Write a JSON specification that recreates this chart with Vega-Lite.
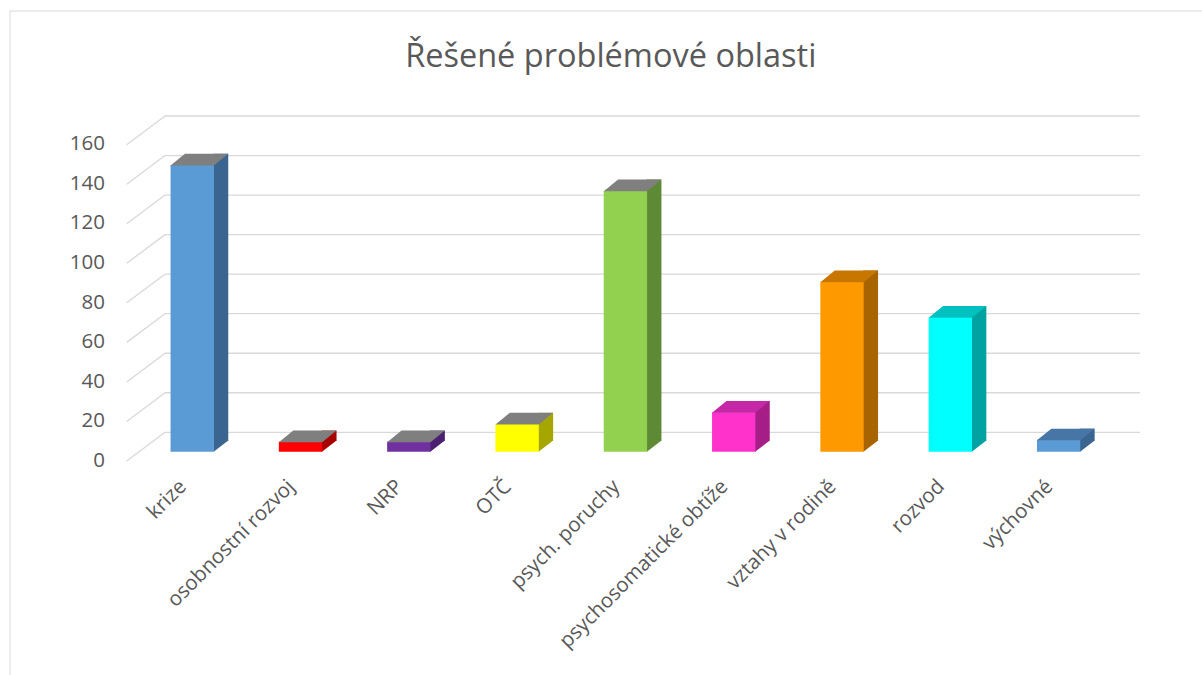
{
  "$schema": "https://vega.github.io/schema/vega-lite/v6.json",
  "autosize": {"type": "none"},
  "padding": {"left": 9.5, "top": 10.5, "right": 0, "bottom": 0},
  "width": 1192.5,
  "height": 664.5,
  "background": "white",
  "config": {
    "view": {"stroke": "#D9D9D9", "strokeWidth": 1, "strokeDash": [1192.5, 1857, 664.5]},
    "font": "Open Sans"
  },
  "title": {
    "text": "Řešené problémové oblasti",
    "font": "Open Sans",
    "fontSize": 32.5,
    "fontWeight": "normal",
    "color": "#595959",
    "anchor": "middle",
    "offset": -63,
    "dx": 5
  },
  "datasets": {
    "oblasti": [
      {"oblast": "krize", "pocet": 145},
      {"oblast": "osobnostní rozvoj", "pocet": 5},
      {"oblast": "NRP", "pocet": 5},
      {"oblast": "OTČ", "pocet": 14},
      {"oblast": "psych. poruchy", "pocet": 132},
      {"oblast": "psychosomatické obtíže", "pocet": 20},
      {"oblast": "vztahy v rodině", "pocet": 86},
      {"oblast": "rozvod", "pocet": 68},
      {"oblast": "výchovné", "pocet": 6}
    ],
    "mrizka": [
      {"v": 0}, {"v": 20}, {"v": 40}, {"v": 60}, {"v": 80},
      {"v": 100}, {"v": 120}, {"v": 140}, {"v": 160}
    ]
  },
  "layer": [
    {
      "data": {"name": "mrizka"},
      "mark": {"type": "rule", "color": "#D9D9D9", "strokeWidth": 1.3, "xOffset": -27.7, "x2Offset": 81.4, "yOffset": -19.4, "y2Offset": -19.4},
      "encoding": {
        "x": {"datum": "krize", "type": "nominal", "scale": {"domain": ["krize", "osobnostní rozvoj", "NRP", "OTČ", "psych. poruchy", "psychosomatické obtíže", "vztahy v rodině", "rozvod", "výchovné"], "range": [128.55, 1103.25], "paddingInner": 0.6, "paddingOuter": 0.3},
          "axis": {"title": null, "labelAngle": -45, "labelAlign": "right", "labelBaseline": "middle", "domain": false, "ticks": false, "tickSize": 0, "labelPadding": 0, "offset": -192, "labelOffset": -9, "labelFontSize": 20.5, "labelColor": "#595959", "labelFont": "Open Sans", "labelLimit": 0, "labelOverlap": false}},
        "x2": {"datum": "výchovné"},
        "y": {"field": "v", "type": "quantitative", "scale": {"domain": [0, 160], "range": [441.2, 124.9], "nice": false},
          "axis": {"title": null, "grid": false, "domain": false, "ticks": false, "tickSize": 0, "labelPadding": 0, "offset": -95, "labelOffset": 8.5, "labelFontSize": 20.5, "labelColor": "#595959", "labelFont": "Open Sans", "values": [0, 20, 40, 60, 80, 100, 120, 140, 160]}},
        "y2": {"field": "v"}
      }
    },
    {
      "data": {"name": "mrizka"},
      "mark": {"type": "rule", "color": "#D9D9D9", "strokeWidth": 1.3, "xOffset": -65.5, "x2Offset": -27.2, "yOffset": 9.3, "y2Offset": -19.4},
      "encoding": {
        "x": {"datum": "krize", "type": "nominal"},
        "x2": {"datum": "krize"},
        "y": {"field": "v", "type": "quantitative"},
        "y2": {"field": "v"}
      }
    },
    {
      "data": {"name": "oblasti"},
      "mark": {"type": "bar", "width": 15, "xOffset": 28.55, "yOffset": -11.2, "y2Offset": -11.2},
      "encoding": {
        "x": {"field": "oblast", "type": "nominal", "sort": null},
        "y": {"field": "pocet", "type": "quantitative"},
        "y2": {"datum": 0},
        "color": {"field": "oblast", "type": "nominal", "legend": null,
          "scale": {"domain": ["krize", "osobnostní rozvoj", "NRP", "OTČ", "psych. poruchy", "psychosomatické obtíže", "vztahy v rodině", "rozvod", "výchovné"],
            "range": ["#3B6591", "#A80000", "#4B2070", "#A6A600", "#5E8A35", "#A51E88", "#A86400", "#00A2A2", "#3B6591"]}}
      }
    },
    {
      "data": {"name": "oblasti"},
      "mark": {"type": "point", "shape": "M21.15,0.3L21.15,-11.7L36.05,-11.7L36.05,-11.2Z", "size": 4, "filled": true, "opacity": 1, "strokeWidth": 0},
      "encoding": {
        "x": {"field": "oblast", "type": "nominal", "sort": null},
        "y": {"datum": 0, "type": "quantitative"},
        "color": {"field": "oblast", "type": "nominal", "legend": null,
          "scale": {"domain": ["krize", "osobnostní rozvoj", "NRP", "OTČ", "psych. poruchy", "psychosomatické obtíže", "vztahy v rodině", "rozvod", "výchovné"],
            "range": ["#3B6591", "#A80000", "#4B2070", "#A6A600", "#5E8A35", "#A51E88", "#A86400", "#00A2A2", "#3B6591"]}}
      }
    },
    {
      "data": {"name": "oblasti"},
      "mark": {"type": "bar"},
      "encoding": {
        "x": {"field": "oblast", "type": "nominal", "sort": null},
        "y": {"field": "pocet", "type": "quantitative"},
        "y2": {"datum": 0},
        "color": {"field": "oblast", "type": "nominal", "legend": null,
          "scale": {"domain": ["krize", "osobnostní rozvoj", "NRP", "OTČ", "psych. poruchy", "psychosomatické obtíže", "vztahy v rodině", "rozvod", "výchovné"],
            "range": ["#5B9BD5", "#FF0000", "#7030A0", "#FFFF00", "#92D050", "#FF33CC", "#FF9900", "#00FFFF", "#5B9BD5"]}}
      }
    },
    {
      "data": {"name": "oblasti"},
      "mark": {"type": "point", "shape": "M-21.65,0.5L21.65,0.5L36.05,-11.2L-7.25,-11.2Z", "size": 4, "filled": true, "opacity": 1, "strokeWidth": 0},
      "encoding": {
        "x": {"field": "oblast", "type": "nominal", "sort": null},
        "y": {"field": "pocet", "type": "quantitative"},
        "color": {"field": "oblast", "type": "nominal", "legend": null,
          "scale": {"domain": ["krize", "osobnostní rozvoj", "NRP", "OTČ", "psych. poruchy", "psychosomatické obtíže", "vztahy v rodině", "rozvod", "výchovné"],
            "range": ["#7F7F7F", "#7F7F7F", "#7F7F7F", "#7F7F7F", "#7F7F7F", "#C428A6", "#C77700", "#00C0C0", "#4675A6"]}}
      }
    }
  ],
  "resolve": {"scale": {"color": "independent"}}
}
